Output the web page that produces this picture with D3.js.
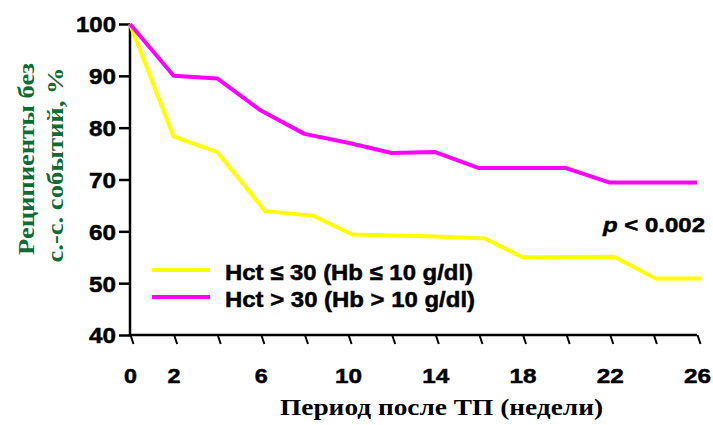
<!DOCTYPE html>
<html><head><meta charset="utf-8">
<script src="https://cdn.jsdelivr.net/npm/d3@7"></script>
<style>
body{margin:0;background:#fff}
.sans{font-family:Arial,"Liberation Sans",Helvetica,sans-serif;font-weight:bold;stroke:#000;stroke-width:0.5px}
.serif{font-family:"Times New Roman","Liberation Serif",Times,serif;font-weight:bold}
</style>
</head><body>
<svg id="c" width="713" height="425"></svg>
<script>
// Data
const weeksHigh = [0, 2, 4, 6, 8, 10, 12, 14, 16, 20, 22, 26];
const survHigh  = [100, 90, 89.5, 83.3, 78.8, 77.1, 75.1, 75.3, 72.2, 72.2, 69.4, 69.4];
const weeksLow  = [0, 2, 4, 6.2, 8.4, 10.2, 14, 16.3, 18, 22.2, 24.1, 26.2];
const survLow   = [100, 78.3, 75.3, 63.9, 63.0, 59.4, 59.0, 58.6, 55.0, 55.1, 50.9, 50.9];
const xTicks = [0,2,4,6,8,10,12,14,16,18,20,22,24,26];
const xLabels = [0,2,6,10,14,18,22,26];
const yTicks = [40,50,60,70,80,90,100];
const legendLabels = ["Hct \u2264 30 (Hb \u2264 10 g/dl)", "Hct > 30 (Hb > 10 g/dl)"];
const colors = ["#ffff00", "#ff00ff"];

const svg = d3.select("#c");
const x = d3.scaleLinear().domain([0, 26]).range([130, 697]);
const y = d3.scaleLinear().domain([40, 100]).range([335, 24]);

// Y axis
const ya = svg.append("g").attr("transform", "translate(130,0)")
  .call(d3.axisLeft(y).tickValues(yTicks).tickSize(11).tickPadding(3));
ya.attr("font-family", null).attr("font-size", null);
ya.select(".domain").attr("stroke", "#000").attr("stroke-width", 2.5).attr("d", `M0,${y(100)}V${y(40)}`);
ya.selectAll(".tick line").attr("stroke", "#000").attr("stroke-width", 2.5);
ya.selectAll(".tick text").attr("class", "sans").attr("font-size", 22).attr("fill", "#000")
  .attr("dy", "0.36em")
  .attr("textLength", d => d === 100 ? 40 : 27).attr("lengthAdjust", "spacingAndGlyphs");

// X axis
const xa = svg.append("g").attr("transform", "translate(0,335)")
  .call(d3.axisBottom(x).tickValues(xTicks).tickSize(9).tickPadding(24)
    .tickFormat(d => xLabels.includes(d) ? String(d) : ""));
xa.attr("font-family", null).attr("font-size", null);
xa.select(".domain").attr("stroke", "#000").attr("stroke-width", 2.5).attr("d", `M${x(0)},0H${x(26)}`);
xa.selectAll(".tick line").attr("stroke", "#000").attr("stroke-width", 2).attr("x1", 0).attr("x2", 3);
xa.selectAll(".tick text").attr("class", "sans").attr("font-size", 21).attr("fill", "#000")
  .attr("dy", "0.72em")
  .attr("textLength", d => d >= 10 ? 27 : 13).attr("lengthAdjust", "spacingAndGlyphs");

// Lines
const line = d3.line().x(d => x(d[0])).y(d => y(d[1]));
const seriesLow = weeksLow.map((w, i) => [w, survLow[i]]);
const seriesHigh = weeksHigh.map((w, i) => [w, survHigh[i]]);
svg.append("path").datum(seriesLow).attr("d", line).attr("fill", "none")
  .attr("stroke", colors[0]).attr("stroke-width", 4).attr("stroke-linejoin", "round");
svg.append("path").datum(seriesHigh).attr("d", line).attr("fill", "none")
  .attr("stroke", colors[1]).attr("stroke-width", 4).attr("stroke-linejoin", "round");

// Legend
const lg = svg.append("g");
legendLabels.forEach((t, i) => {
  const yy = 270 + i * 27;
  lg.append("line").attr("x1", 152).attr("x2", 210).attr("y1", yy).attr("y2", yy)
    .attr("stroke", colors[i]).attr("stroke-width", 4);
  lg.append("text").attr("class", "sans").attr("x", 225).attr("y", yy + 10).text(t)
    .attr("font-size", 22).attr("fill", "#000")
    .attr("textLength", i === 0 ? 248 : 250).attr("lengthAdjust", "spacingAndGlyphs");
});

// p-value
const pt = svg.append("text").attr("class", "sans").attr("x", 603).attr("y", 232)
  .attr("font-size", 21).attr("fill", "#000")
  .attr("textLength", 102).attr("lengthAdjust", "spacingAndGlyphs");
pt.append("tspan").attr("font-style", "italic").text("p");
pt.append("tspan").text(" < 0.002");

// X title
svg.append("text").attr("class", "serif").attr("x", 280).attr("y", 415).text("Период после ТП (недели)")
  .attr("font-size", 24).attr("fill", "#000")
  .attr("textLength", 323).attr("lengthAdjust", "spacingAndGlyphs");

// Y title
const green = "#0f6a34";
svg.append("text").attr("class", "serif").attr("transform", "translate(34,159) rotate(-90)")
  .attr("text-anchor", "middle").text("Реципиенты без")
  .attr("font-size", 24).attr("fill", green)
  .attr("textLength", 192).attr("lengthAdjust", "spacingAndGlyphs");
svg.append("text").attr("class", "serif").attr("transform", "translate(63,165) rotate(-90)")
  .attr("text-anchor", "middle").text("с.-с. событий,  %")
  .attr("font-size", 24).attr("fill", green)
  .attr("textLength", 195).attr("lengthAdjust", "spacingAndGlyphs");
</script>
</body></html>
